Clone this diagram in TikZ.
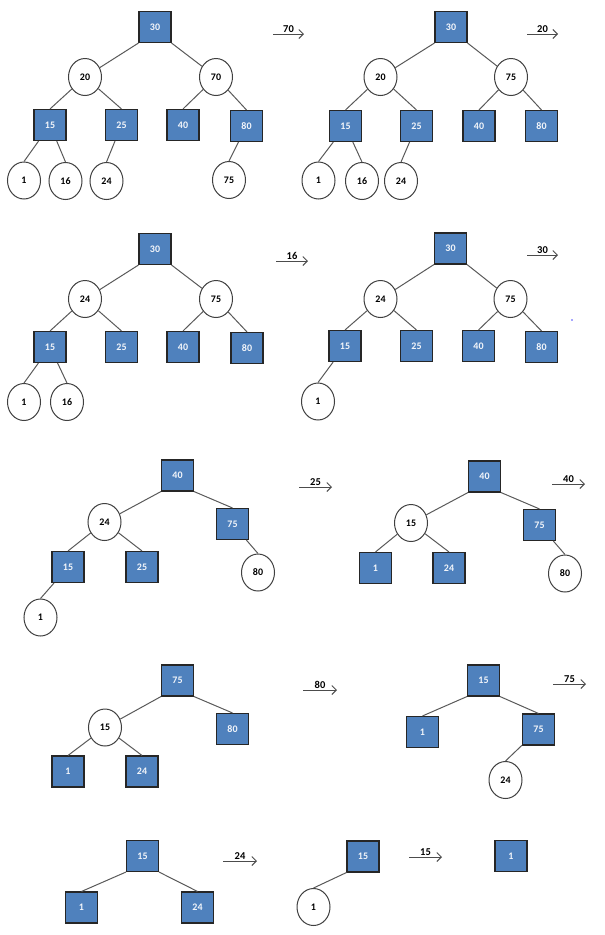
\documentclass[tikz,border=0pt]{standalone}
\usepackage{fontspec}
\setmainfont{Carlito}
\usetikzlibrary{arrows.meta,shapes.geometric}
\definecolor{sqblue}{HTML}{4F81BD}
\definecolor{sqtext}{HTML}{F2F5FA}
\begin{document}
\begin{tikzpicture}[x=1pt,y=-1pt,
  sq/.style={rectangle, draw=black!85, line width=1.1pt, fill=sqblue, minimum width=32pt, minimum height=31pt, inner sep=0pt, text=sqtext, font=\bfseries\fontsize{10}{11}\selectfont},
  cir/.style={ellipse, draw=black!75, line width=1pt, fill=white, minimum width=33pt, minimum height=37pt, inner sep=0pt, font=\bfseries\fontsize{10}{11}\selectfont},
  edge/.style={draw=black!65, line width=1pt},
  arr/.style={draw=black!70, line width=1pt, -{Straight Barb[length=4.5pt,width=9pt]}},
  lab/.style={above=0.8pt, inner sep=0.5pt, font=\bfseries\fontsize{10.5}{12}\selectfont}]
\useasboundingbox (0,0) rectangle (605,935);

% ---------- Panel 1 ----------
\node[sq]  (a30) at (155,27) {30};
\node[cir] (a20) at (85,77) {20};
\node[cir] (a70) at (216,77) {70};
\node[sq]  (a15) at (50,125) {15};
\node[sq]  (a25) at (121.5,125) {25};
\node[sq]  (a40) at (183,125) {40};
\node[sq]  (a80) at (246.5,126) {80};
\node[cir] (a1)  at (24,180.5) {1};
\node[cir] (a16) at (65.5,181) {16};
\node[cir] (a24) at (106.5,181) {24};
\node[cir] (a75) at (229,180) {75};
\draw[edge] (a30.south west) -- (a20);
\draw[edge] (a30.south east) -- (a70);
\draw[edge] (a20) -- (a15.north);
\draw[edge] (a20) -- (a25.north);
\draw[edge] (a70) -- (a40.north);
\draw[edge] (a70) -- (a80.north);
\draw[edge] (a15) -- (a1.north);
\draw[edge] (a15) -- (a16.north);
\draw[edge] (a25) -- (a24.north);
\draw[edge] (a80) -- (a75.north);
\coordinate (p1s) at (273,34); \coordinate (p1e) at (304,34);
\draw[arr] (p1s) -- node[lab] {70} (p1e);

% ---------- Panel 2 ----------
\node[sq]  (b30) at (451,27) {30};
\node[cir] (b20) at (380.5,77) {20};
\node[cir] (b75) at (511,77) {75};
\node[sq]  (b15) at (345.5,126) {15};
\node[sq]  (b25) at (416.5,126) {25};
\node[sq]  (b40) at (479,126) {40};
\node[sq]  (b80) at (541.5,126) {80};
\node[cir] (b1)  at (318.5,180.5) {1};
\node[cir] (b16) at (362,181) {16};
\node[cir] (b24) at (401,181) {24};
\draw[edge] (b30.south west) -- (b20);
\draw[edge] (b30.south east) -- (b75);
\draw[edge] (b20) -- (b15.north);
\draw[edge] (b20) -- (b25.north);
\draw[edge] (b75) -- (b40.north);
\draw[edge] (b75) -- (b80.north);
\draw[edge] (b15) -- (b1.north);
\draw[edge] (b15) -- (b16.north);
\draw[edge] (b25) -- (b24.north);
\coordinate (p2s) at (527,34); \coordinate (p2e) at (558,34);
\draw[arr] (p2s) -- node[lab] {20} (p2e);

% ---------- Panel 3 ----------
\node[sq]  (c30) at (155,249) {30};
\node[cir] (c24) at (85,299) {24};
\node[cir] (c75) at (216,299) {75};
\node[sq]  (c15) at (50,347) {15};
\node[sq]  (c25) at (121.5,347) {25};
\node[sq]  (c40) at (183,347) {40};
\node[sq]  (c80) at (247,348) {80};
\node[cir] (c1)  at (24,402) {1};
\node[cir] (c16) at (67,402) {16};
\draw[edge] (c30.south west) -- (c24);
\draw[edge] (c30.south east) -- (c75);
\draw[edge] (c24) -- (c15.north);
\draw[edge] (c24) -- (c25.north);
\draw[edge] (c75) -- (c40.north);
\draw[edge] (c75) -- (c80.north);
\draw[edge] (c15) -- (c1.north);
\draw[edge] (c15) -- (c16.north);
\coordinate (p3s) at (276,261); \coordinate (p3e) at (308,261);
\draw[arr] (p3s) -- node[lab] {16} (p3e);

% ---------- Panel 4 ----------
\node[sq]  (d30) at (450.5,248.5) {30};
\node[cir] (d24) at (380.5,299) {24};
\node[cir] (d75) at (510.5,299) {75};
\node[sq]  (d15) at (345,346) {15};
\node[sq]  (d25) at (416.5,346) {25};
\node[sq]  (d40) at (478.5,346) {40};
\node[sq]  (d80) at (541.5,347) {80};
\node[cir] (d1)  at (318,401.5) {1};
\draw[edge] (d30.south west) -- (d24);
\draw[edge] (d30.south east) -- (d75);
\draw[edge] (d24) -- (d15.north);
\draw[edge] (d24) -- (d25.north);
\draw[edge] (d75) -- (d40.north);
\draw[edge] (d75) -- (d80.north);
\draw[edge] (d15) -- (d1.north);
\coordinate (p4s) at (527,255); \coordinate (p4e) at (558,255);
\draw[arr] (p4s) -- node[lab] {30} (p4e);
\fill[blue!70] (572,320) circle (0.8);

% ---------- Panel 5 ----------
\node[sq]  (e40) at (177.5,475.5) {40};
\node[cir] (e24) at (104.5,522) {24};
\node[sq]  (e75) at (232.5,524) {75};
\node[sq]  (e15) at (68,567) {15};
\node[sq]  (e25) at (142,567) {25};
\node[cir] (e80) at (258,572.5) {80};
\node[cir] (e1)  at (40.5,617.5) {1};
\draw[edge] (e40.south west) -- (e24);
\draw[edge] (e40.south east) -- (e75.north);
\draw[edge] (e24) -- (e15.north);
\draw[edge] (e24) -- (e25.north);
\draw[edge] (e75) -- (e80.north);
\draw[edge] (e15) -- (e1.north);
\coordinate (p5s) at (299,487); \coordinate (p5e) at (332,487);
\draw[arr] (p5s) -- node[lab] {25} (p5e);

% ---------- Panel 6 ----------
\node[sq]  (f40) at (484.5,476.5) {40};
\node[cir] (f15) at (411,523) {15};
\node[sq]  (f75) at (539.5,525) {75};
\node[sq]  (f1)  at (375.5,568) {1};
\node[sq]  (f24) at (449,568) {24};
\node[cir] (f80) at (565,573.5) {80};
\draw[edge] (f40.south west) -- (f15);
\draw[edge] (f40.south east) -- (f75.north);
\draw[edge] (f15) -- (f1.north);
\draw[edge] (f15) -- (f24.north);
\draw[edge] (f75) -- (f80.north);
\coordinate (p6s) at (552,484); \coordinate (p6e) at (585,484);
\draw[arr] (p6s) -- node[lab] {40} (p6e);

% ---------- Panel 7 ----------
\node[sq]  (g75) at (177.5,680.5) {75};
\node[cir] (g15) at (105,727.5) {15};
\node[sq]  (g80) at (232.5,729) {80};
\node[sq]  (g1)  at (68,771.5) {1};
\node[sq]  (g24) at (142,771.5) {24};
\draw[edge] (g75.south west) -- (g15);
\draw[edge] (g75.south east) -- (g80.north);
\draw[edge] (g15) -- (g1.north);
\draw[edge] (g15) -- (g24.north);
\coordinate (p7s) at (303,690); \coordinate (p7e) at (337,690);
\draw[arr] (p7s) -- node[lab] {80} (p7e);

% ---------- Panel 8 ----------
\node[sq]  (h15) at (483.5,680.5) {15};
\node[sq]  (h1)  at (422.5,732) {1};
\node[sq]  (h75) at (538.5,729.5) {75};
\node[cir] (h24) at (505.5,780) {24};
\draw[edge] (h15.south west) -- (h1.north);
\draw[edge] (h15.south east) -- (h75.north);
\draw[edge] (h75) -- (h24.north);
\coordinate (p8s) at (553,684); \coordinate (p8e) at (586,684);
\draw[arr] (p8s) -- node[lab] {75} (p8e);

% ---------- Panel 9 ----------
\node[sq]  (i15) at (142.5,856) {15};
\node[sq]  (i1)  at (81.5,907.5) {1};
\node[sq]  (i24) at (197.5,907.5) {24};
\draw[edge] (i15.south west) -- (i1.north);
\draw[edge] (i15.south east) -- (i24.north);
\coordinate (p9s) at (223,861); \coordinate (p9e) at (257,861);
\draw[arr] (p9s) -- node[lab] {24} (p9e);

% ---------- Panel 10 ----------
\node[sq]  (j15) at (363,856.5) {15};
\node[cir] (j1)  at (313.5,907) {1};
\draw[edge] (j15.south west) -- (j1.north);
\coordinate (p10s) at (409,857); \coordinate (p10e) at (442,857);
\draw[arr] (p10s) -- node[lab] {15} (p10e);

% ---------- Panel 11 ----------
\node[sq]  (k1) at (511,856) {1};
\end{tikzpicture}
\end{document}
